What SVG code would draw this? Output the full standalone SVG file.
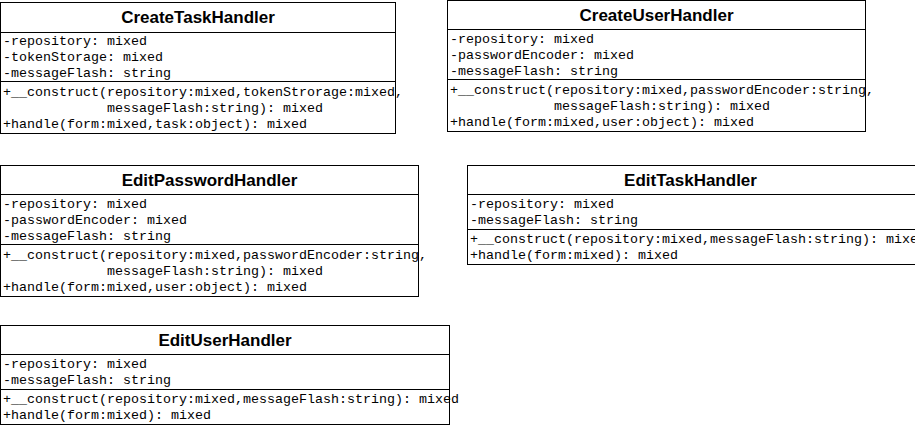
<svg xmlns="http://www.w3.org/2000/svg" width="915" height="426" viewBox="0 0 915 426">
<style>
.box{fill:#fff;stroke:#000;stroke-width:1}
.sep{stroke:#000;stroke-width:1}
.t{font-family:"Liberation Sans",Arial,sans-serif;font-weight:bold;font-size:17px;text-anchor:middle;fill:#000}
.m{font-family:"Liberation Mono","Courier New",monospace;font-size:13.33px;fill:#000;white-space:pre}
</style>
<rect width="915" height="426" fill="#fff"/>
<g id="CreateTaskHandler">
<rect class="box" x="0.5" y="2.5" width="395" height="131"/>
<line class="sep" x1="0.5" y1="32.5" x2="395.5" y2="32.5"/>
<line class="sep" x1="0.5" y1="81.5" x2="395.5" y2="81.5"/>
<text class="t" x="198" y="23">CreateTaskHandler</text>
<text class="m" x="3" y="45">-repository: mixed</text>
<text class="m" x="3" y="61">-tokenStorage: mixed</text>
<text class="m" x="3" y="77">-messageFlash: string</text>
<text class="m" x="3" y="96">+__construct(repository:mixed,tokenStrorage:mixed,</text>
<text class="m" x="107" y="112">messageFlash:string): mixed</text>
<text class="m" x="3" y="128">+handle(form:mixed,task:object): mixed</text>
</g>
<g id="CreateUserHandler">
<rect class="box" x="447.5" y="0.5" width="418" height="131"/>
<line class="sep" x1="447.5" y1="29.5" x2="865.5" y2="29.5"/>
<line class="sep" x1="447.5" y1="79.5" x2="865.5" y2="79.5"/>
<text class="t" x="656.5" y="21">CreateUserHandler</text>
<text class="m" x="450" y="43">-repository: mixed</text>
<text class="m" x="450" y="59">-passwordEncoder: mixed</text>
<text class="m" x="450" y="75">-messageFlash: string</text>
<text class="m" x="450" y="94">+__construct(repository:mixed,passwordEncoder:string,</text>
<text class="m" x="554" y="110">messageFlash:string): mixed</text>
<text class="m" x="450" y="126">+handle(form:mixed,user:object): mixed</text>
</g>
<g id="EditPasswordHandler">
<rect class="box" x="0.5" y="165.5" width="418" height="131"/>
<line class="sep" x1="0.5" y1="194.5" x2="418.5" y2="194.5"/>
<line class="sep" x1="0.5" y1="244.5" x2="418.5" y2="244.5"/>
<text class="t" x="209.5" y="186">EditPasswordHandler</text>
<text class="m" x="3" y="208">-repository: mixed</text>
<text class="m" x="3" y="224">-passwordEncoder: mixed</text>
<text class="m" x="3" y="240">-messageFlash: string</text>
<text class="m" x="3" y="259">+__construct(repository:mixed,passwordEncoder:string,</text>
<text class="m" x="107" y="275">messageFlash:string): mixed</text>
<text class="m" x="3" y="291">+handle(form:mixed,user:object): mixed</text>
</g>
<g id="EditTaskHandler">
<rect class="box" x="467.5" y="165.5" width="450" height="99"/>
<line class="sep" x1="467.5" y1="194.5" x2="917.5" y2="194.5"/>
<line class="sep" x1="467.5" y1="229.5" x2="917.5" y2="229.5"/>
<text class="t" x="690.5" y="186">EditTaskHandler</text>
<text class="m" x="470" y="208">-repository: mixed</text>
<text class="m" x="470" y="224">-messageFlash: string</text>
<text class="m" x="470" y="243">+__construct(repository:mixed,messageFlash:string): mixed</text>
<text class="m" x="470" y="259">+handle(form:mixed): mixed</text>
</g>
<g id="EditUserHandler">
<rect class="box" x="0.5" y="325.5" width="449" height="99"/>
<line class="sep" x1="0.5" y1="354.5" x2="449.5" y2="354.5"/>
<line class="sep" x1="0.5" y1="389.5" x2="449.5" y2="389.5"/>
<text class="t" x="225" y="346">EditUserHandler</text>
<text class="m" x="3" y="368">-repository: mixed</text>
<text class="m" x="3" y="384">-messageFlash: string</text>
<text class="m" x="3" y="403">+__construct(repository:mixed,messageFlash:string): mixed</text>
<text class="m" x="3" y="419">+handle(form:mixed): mixed</text>
</g>
<g id="connectors"></g>
</svg>
